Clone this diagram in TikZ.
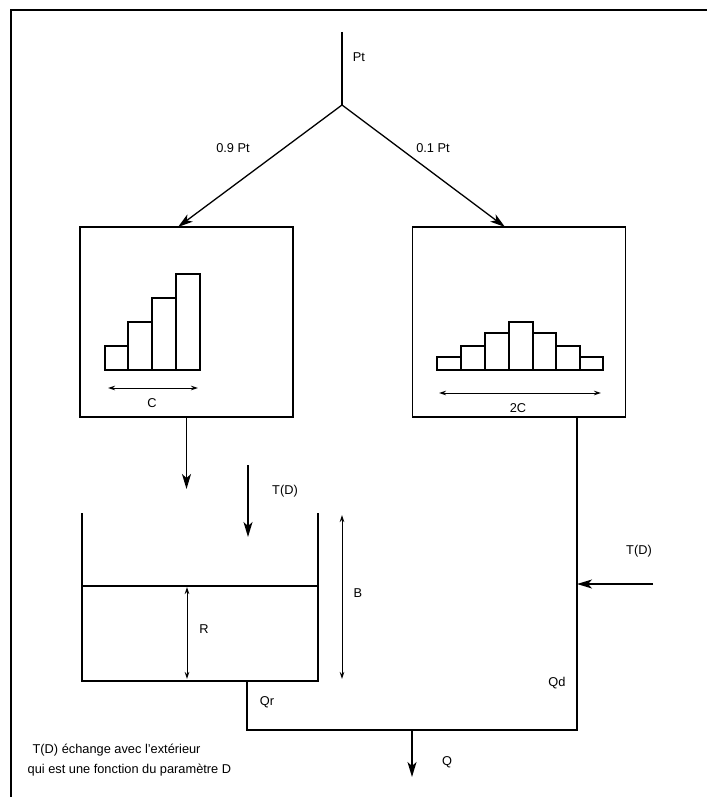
\documentclass[tikz,border=0pt]{standalone}
\usepackage{fontspec}
\setmainfont{Liberation Sans}
\usetikzlibrary{arrows.meta}
\begin{document}
\begin{tikzpicture}[x=1pt,y=-1pt, line width=1.3pt,
  lbl/.style={font=\fontsize{12.8}{14}\selectfont, inner sep=0pt},
  bigarrow/.style={-{Stealth[length=15pt,width=9pt,inset=4pt]}},
  dimarrow/.style={{Stealth[length=7pt,width=4.5pt]}-{Stealth[length=7pt,width=4.5pt]}, line width=1pt},
  boxst/.style={draw, minimum width=213pt, minimum height=190pt, inner sep=0pt},
  bar/.style={draw, line width=1.1pt}]
\useasboundingbox (0,0) rectangle (707,797);
% frame
\draw[line width=1.5pt] (11,797) -- (11,10) -- (707,10);

% top split
\coordinate (src) at (342,32);
\coordinate (split) at (342,105);
\node[boxst] (boxL) at (186.5,322) {};
\node[boxst] (boxR) at (519,322) {};
\coordinate (inL) at (178,227);
\coordinate (inR) at (505,227);
\draw (src) -- (split);
\draw[bigarrow] (split) -- (inL);
\draw[bigarrow] (split) -- (inR);
\node[lbl] (lPt) at (359,57) {Pt};
\node[lbl] (l09) at (233,148) {0.9 Pt};
\node[lbl] (l01) at (433,148) {0.1 Pt};

% left histogram
\foreach \xa/\xb/\yt in {105/128/346, 128/152/322, 152/176/298, 176/200/274}
  \draw[bar] (\xa,370) rectangle (\xb,\yt);
\coordinate (cA) at (108,388);
\coordinate (cB) at (198,388);
\draw[dimarrow] (cA) -- (cB);
\node[lbl] (lC) at (152,403) {C};

% right histogram
\foreach \xa/\xb/\yt in {437/461/357, 461/485/346, 485/509/333, 509/533/322, 533/556/333, 556/580/346, 580/603/357}
  \draw[bar] (\xa,370) rectangle (\xb,\yt);
\coordinate (dA) at (439,393);
\coordinate (dB) at (601,393);
\draw[dimarrow] (dA) -- (dB);
\node[lbl] (l2C) at (518,408) {2C};

% flow from left box into tank
\coordinate (tankIn) at (186.5,489);
\draw[bigarrow] (boxL.south) -- (tankIn);
\coordinate (tdA) at (248,465);
\coordinate (tdB) at (248,537);
\draw[bigarrow] (tdA) -- (tdB);
\node[lbl] (lTD1) at (285,491) {T(D)};

% tank
\draw (82,513) -- (82,681) -- (318,681) -- (318,513);
\draw (82,586) -- (318,586);
\coordinate (rA) at (187,587);
\coordinate (rB) at (187,679);
\draw[dimarrow] (rA) -- (rB);
\node[lbl] (lR) at (204,629) {R};
\coordinate (bA) at (342,515);
\coordinate (bB) at (342,679);
\draw[dimarrow] (bA) -- (bB);
\node[lbl] (lB) at (358,593) {B};

% outlets
\coordinate (tankOut) at (247,681);
\coordinate (rOut) at (577,417);
\coordinate (jL) at (247,730);
\coordinate (jR) at (577,730);
\draw (tankOut) -- (jL) -- (jR) -- (rOut);
\node[lbl] (lQr) at (267,702) {Qr};
\node[lbl] (lQd) at (557,683) {Qd};

% right exchange
\coordinate (exA) at (653,584);
\coordinate (exB) at (577,584);
\draw[bigarrow] (exA) -- (exB);
\node[lbl] (lTD2) at (639,551) {T(D)};

% outflow
\coordinate (qA) at (412,730);
\coordinate (qB) at (412,777);
\draw[bigarrow] (qA) -- (qB);
\node[lbl] (lQ) at (447,762) {Q};

% note
\node[lbl, anchor=west] (n1) at (32,750) {T(D) échange avec l'extérieur};
\node[lbl, anchor=west] (n2) at (27,770) {qui est une fonction du paramètre D};
\end{tikzpicture}
\end{document}
